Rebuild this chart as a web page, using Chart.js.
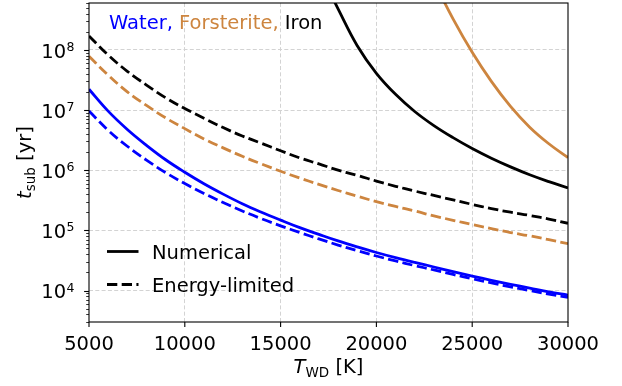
<!DOCTYPE html>
<html>
<head>
<meta charset="utf-8">
<script src="https://cdn.jsdelivr.net/npm/chart.js@4/dist/chart.umd.min.js"></script>
<style>
  html, body { margin: 0; padding: 0; background: #fff; }
  #wrap { width: 622px; height: 386px; position: relative; }
</style>
</head>
<body>
<div id="wrap"><canvas id="subChart"></canvas></div>
<script>
// White dwarf temperature grid [K]
const temps = [5000, 6000, 7000, 8000, 9000, 10000, 11000, 12000, 13000, 14000, 15000,
  16000, 17000, 18000, 19000, 20000, 21000, 22000, 23000, 24000, 25000,
  26000, 27000, 28000, 29000, 30000];

// Sublimation times [yr], energy-limited estimate
const waterEnergy = [9.6e6, 4.6e6, 2.5e6, 1.47e6, 9.1e5, 6.0e5, 4.1e5, 2.9e5, 2.1e5, 1.56e5, 1.19e5,
  9.2e4, 7.2e4, 5.7e4, 4.6e4, 3.75e4, 3.1e4, 2.6e4, 2.2e4, 1.85e4, 1.57e4,
  1.34e4, 1.15e4, 1.0e4, 8.7e3, 7.7e3];
const forsteriteEnergy = [7.8e7, 3.8e7, 2.0e7, 1.19e7, 7.4e6, 4.9e6, 3.3e6, 2.35e6, 1.7e6, 1.27e6, 9.6e5,
  7.4e5, 5.8e5, 4.6e5, 3.7e5, 3.0e5, 2.5e5, 2.1e5, 1.74e5, 1.47e5, 1.25e5,
  1.07e5, 9.2e4, 8.1e4, 7.0e4, 6.0e4];
const ironEnergy = [1.7e8, 8.2e7, 4.4e7, 2.6e7, 1.6e7, 1.06e7, 7.3e6, 5.1e6, 3.7e6, 2.8e6, 2.1e6,
  1.6e6, 1.27e6, 1.0e6, 8.2e5, 6.6e5, 5.4e5, 4.5e5, 3.8e5, 3.2e5, 2.7e5,
  2.3e5, 2.0e5, 1.77e5, 1.54e5, 1.31e5];

// Sublimation times [yr], numerical solution
const waterNumerical = [2.21e7, 9.57e6, 4.75e6, 2.59e6, 1.49e6, 9.24e5, 5.95e5, 4.0e5, 2.77e5, 2.0e5, 1.48e5,
  1.11e5, 8.57e4, 6.67e4, 5.31e4, 4.29e4, 3.52e4, 2.93e4, 2.46e4, 2.06e4, 1.74e4,
  1.48e4, 1.27e4, 1.1e4, 9.5e3, 8.4e3];
const ironNumTemps = [17500, 18000, 19000, 20000, 21000, 22000, 23000, 24000, 25000,
  26000, 27000, 28000, 29000, 30000];
const ironNumerical = [1.02e9, 4.79e8, 1.17e8, 4.07e7, 1.82e7, 9.44e6, 5.5e6, 3.47e6, 2.29e6,
  1.58e6, 1.135e6, 8.4e5, 6.46e5, 5.07e5];
const forsteriteNumTemps = [23000, 24000, 25000, 26000, 27000, 28000, 29000, 30000];
const forsteriteNumerical = [1.38e9, 3.27e8, 9.1e7, 2.99e7, 1.15e7, 5.19e6, 2.75e6, 1.62e6];

const xTicks = [5000, 10000, 15000, 20000, 25000, 30000];
const yMajor = [1e4, 1e5, 1e6, 1e7, 1e8];
const Y_MIN = 3e3, Y_MAX = 6e8;

const BLUE = '#0000ff', PERU = '#cd853f', BLACK = '#000000';
const GRID = '#d3d3d3';
const FONT = "'DejaVu Sans', sans-serif";
const LW = 2.8;
const DASH = [10.3, 4.4];

const pts = (xs, ys) => xs.map((x, i) => ({ x: x, y: ys[i] }));
const isMajor = v => Math.abs(Math.log10(v) - Math.round(Math.log10(v))) < 1e-9;

function series(xs, ys, color, dashed) {
  return {
    data: pts(xs, ys),
    borderColor: color,
    borderWidth: LW,
    borderDash: dashed ? DASH : [],
    borderCapStyle: 'butt',
    pointRadius: 0,
    tension: 0.4,
    clip: 0,
    fill: false
  };
}

// spines, tick marks, log labels, axis titles and the two legends
const decorations = {
  id: 'decorations',
  afterDraw(chart) {
    const { ctx, chartArea: a, scales: { x, y } } = chart;
    ctx.save();
    ctx.strokeStyle = '#000';

    // y tick marks (major + minor), drawn outward
    y.ticks.forEach(t => {
      const py = Math.round(y.getPixelForValue(t.value)) + 0.5;
      const major = isMajor(t.value);
      ctx.lineWidth = major ? 1.1 : 0.8;
      ctx.beginPath();
      ctx.moveTo(a.left - (major ? 4.9 : 2.8), py);
      ctx.lineTo(a.left, py);
      ctx.stroke();
    });
    // x tick marks
    ctx.lineWidth = 1.1;
    xTicks.forEach(v => {
      const px = x.getPixelForValue(v);
      ctx.beginPath();
      ctx.moveTo(px, a.bottom);
      ctx.lineTo(px, a.bottom + 4.9);
      ctx.stroke();
    });
    // frame
    ctx.lineWidth = 1.1;
    ctx.strokeRect(a.left, a.top, a.right - a.left, a.bottom - a.top);

    // y labels as 10^n
    ctx.fillStyle = '#000';
    ctx.textBaseline = 'alphabetic';
    yMajor.forEach(v => {
      const py = y.getPixelForValue(v);
      const exp = String(Math.round(Math.log10(v)));
      ctx.font = '12.5px ' + FONT;
      const ew = ctx.measureText(exp).width;
      const right = a.left - 14.5;
      ctx.textAlign = 'left';
      ctx.fillText(exp, right - ew, py + 1);
      ctx.font = '19.5px ' + FONT;
      ctx.textAlign = 'right';
      ctx.fillText('10', right - ew - 0.5, py + 7.8);
    });

    // x title: T_WD [K]
    ctx.textAlign = 'left';
    const cx = (a.left + a.right) / 2;
    const parts = [
      { t: 'T', f: 'italic 19.5px ' + FONT, dy: 0 },
      { t: 'WD', f: '13.5px ' + FONT, dy: 3.5 },
      { t: ' [K]', f: '19.5px ' + FONT, dy: 0 }
    ];
    let total = 0;
    parts.forEach(p => { ctx.font = p.f; p.w = ctx.measureText(p.t).width; total += p.w; });
    let tx = cx - total / 2;
    parts.forEach(p => { ctx.font = p.f; ctx.fillText(p.t, tx, 373 + p.dy); tx += p.w; });

    // y title: t_sub [yr], rotated
    ctx.save();
    ctx.translate(31, (a.top + a.bottom) / 2);
    ctx.rotate(-Math.PI / 2);
    const yparts = [
      { t: 't', f: 'italic 19.5px ' + FONT, dy: 0 },
      { t: 'sub', f: '13.5px ' + FONT, dy: 3.5 },
      { t: ' [yr]', f: '19.5px ' + FONT, dy: 0 }
    ];
    total = 0;
    yparts.forEach(p => { ctx.font = p.f; p.w = ctx.measureText(p.t).width; total += p.w; });
    tx = -total / 2;
    yparts.forEach(p => { ctx.font = p.f; ctx.fillText(p.t, tx, p.dy); tx += p.w; });
    ctx.restore();

    // material key
    ctx.font = '19.5px ' + FONT;
    let kx = 109;
    [['Water, ', BLUE], ['Forsterite, ', PERU], ['Iron', BLACK]].forEach(([t, c]) => {
      ctx.fillStyle = c;
      ctx.fillText(t, kx, 28.5);
      kx += ctx.measureText(t).width;
    });

    // line-style key
    ctx.fillStyle = '#000';
    ctx.strokeStyle = '#000';
    ctx.lineWidth = LW;
    ctx.lineCap = 'butt';
    [['Numerical', [], 251.5], ['Energy-limited', DASH, 284.5]].forEach(([t, d, ly]) => {
      ctx.setLineDash(d);
      ctx.beginPath();
      ctx.moveTo(107, ly);
      ctx.lineTo(138.5, ly);
      ctx.stroke();
      ctx.setLineDash([]);
      ctx.fillText(t, 152, ly + 7.3);
    });
    ctx.restore();
  }
};

new Chart(document.getElementById('subChart'), {
  type: 'line',
  data: {
    datasets: [
      series(temps, waterNumerical, BLUE, false),
      series(temps, waterEnergy, BLUE, true),
      series(forsteriteNumTemps, forsteriteNumerical, PERU, false),
      series(temps, forsteriteEnergy, PERU, true),
      series(ironNumTemps, ironNumerical, BLACK, false),
      series(temps, ironEnergy, BLACK, true)
    ]
  },
  options: {
    responsive: true,
    maintainAspectRatio: false,
    animation: false,
    events: [],
    layout: { padding: { top: 3, right: 54, left: 0, bottom: 0 } },
    plugins: { legend: { display: false }, tooltip: { enabled: false } },
    scales: {
      x: {
        type: 'linear',
        min: 5000,
        max: 30000,
        afterBuildTicks: scale => { scale.ticks = xTicks.map(v => ({ value: v })); },
        afterFit: scale => { scale.height = 64; },
        border: { display: false, dash: [4, 2.3] },
        grid: {
          color: ctx => (ctx.tick && (ctx.tick.value === 5000 || ctx.tick.value === 30000)) ? 'rgba(0,0,0,0)' : GRID,
          lineWidth: 1,
          drawTicks: false
        },
        ticks: {
          color: '#000',
          padding: 11,
          maxRotation: 0,
          font: { family: 'DejaVu Sans', size: 19.5 },
          callback: v => String(v)
        }
      },
      y: {
        type: 'logarithmic',
        min: Y_MIN,
        max: Y_MAX,
        afterBuildTicks: scale => {
          const ticks = [];
          for (let e = 3; e <= 8; e++) {
            for (let m = 1; m <= 9; m++) {
              const v = m * Math.pow(10, e);
              if (v >= Y_MIN && v <= Y_MAX) ticks.push({ value: v });
            }
          }
          scale.ticks = ticks;
        },
        afterFit: scale => { scale.width = 89; },
        border: { display: false, dash: [4, 2.3] },
        grid: {
          color: ctx => (ctx.tick && isMajor(ctx.tick.value)) ? GRID : 'rgba(0,0,0,0)',
          lineWidth: 1,
          drawTicks: false
        },
        ticks: { display: false }
      }
    }
  },
  plugins: [decorations]
});
</script>
</body>
</html>
